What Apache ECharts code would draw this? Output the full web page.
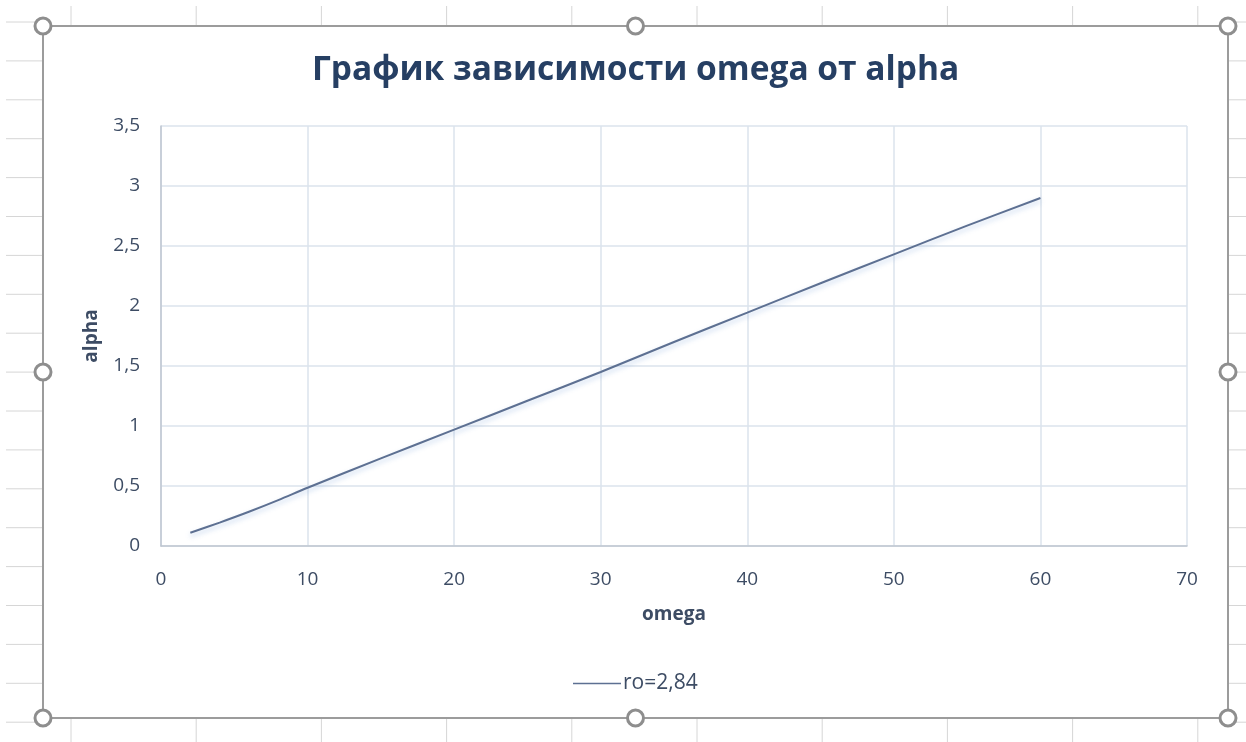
<!DOCTYPE html>
<html>
<head>
<meta charset="utf-8">
<title>График зависимости omega от alpha</title>
<script src="https://cdn.jsdelivr.net/npm/echarts@6/dist/echarts.min.js"></script>
<style>
  html, body { margin: 0; padding: 0; background: #ffffff; }
  #chart { width: 1246px; height: 742px; }
</style>
</head>
<body>
<div id="chart"></div>
<script>
// Measured values: omega on the horizontal axis, alpha on the vertical axis
const omega = [2, 4, 6, 8, 10, 15, 20, 25, 30, 35, 40, 45, 50, 55, 60];
const alpha = [0.11, 0.195, 0.285, 0.382, 0.485, 0.73, 0.97, 1.21, 1.45, 1.70, 1.945, 2.19, 2.43, 2.67, 2.90];
const seriesName = 'ro=2,84';
const xTicks = { min: 0, max: 70, step: 10 };
const yTicks = { min: 0, max: 3.5, step: 0.5 };

const points = omega.map((x, i) => [x, alpha[i]]);

const FONT = '"Open Sans", "Noto Sans", sans-serif';
const TEXT = '#3d4c64';

// Spreadsheet cells and selection frame around the embedded chart
const frame = { x1: 43, y1: 26, x2: 1228, y2: 718 };
const cellLines = [];
const rowStart = 22, rowStep = 38.9;
for (let y = rowStart; y < 742; y += rowStep) {
  cellLines.push({ type: 'line', silent: true, z: -10,
    shape: { x1: 6, y1: y, x2: frame.x1, y2: y }, style: { stroke: '#d6d6d6', lineWidth: 1 } });
  cellLines.push({ type: 'line', silent: true, z: -10,
    shape: { x1: frame.x2, y1: y, x2: 1246, y2: y }, style: { stroke: '#d6d6d6', lineWidth: 1 } });
}
const colStart = 71, colStep = 125.2;
for (let x = colStart; x < 1246; x += colStep) {
  cellLines.push({ type: 'line', silent: true, z: -10,
    shape: { x1: x, y1: 6, x2: x, y2: frame.y1 }, style: { stroke: '#d6d6d6', lineWidth: 1 } });
  cellLines.push({ type: 'line', silent: true, z: -10,
    shape: { x1: x, y1: frame.y2, x2: x, y2: 742 }, style: { stroke: '#d6d6d6', lineWidth: 1 } });
}
const frameRect = { type: 'rect', silent: true, z: -5,
  shape: { x: frame.x1, y: frame.y1, width: frame.x2 - frame.x1, height: frame.y2 - frame.y1 },
  style: { fill: '#ffffff', stroke: '#9c9c9c', lineWidth: 2 } };
const midX = (frame.x1 + frame.x2) / 2, midY = (frame.y1 + frame.y2) / 2;
const handlePos = [
  [frame.x1, frame.y1], [midX, frame.y1], [frame.x2, frame.y1],
  [frame.x1, midY], [frame.x2, midY],
  [frame.x1, frame.y2], [midX, frame.y2], [frame.x2, frame.y2]
];
const handles = handlePos.map(p => ({ type: 'circle', silent: true, z: 100,
  shape: { cx: p[0], cy: p[1], r: 8 },
  style: { fill: '#ffffff', stroke: '#8e8e8e', lineWidth: 3 } }));

const fmt = v => String(v).replace('.', ',');

const chart = echarts.init(document.getElementById('chart'), null, { renderer: 'canvas' });
chart.setOption({
  animation: false,
  backgroundColor: '#ffffff',
  title: {
    text: 'График зависимости omega от alpha',
    left: 307,
    top: 48,
    textStyle: { fontFamily: FONT, fontSize: 33.5, fontWeight: 'bold', color: '#263f63' }
  },
  legend: {
    left: 573, top: 673, padding: 0,
    itemWidth: 48, itemHeight: 10, itemGap: 0,
    textStyle: { fontFamily: FONT, fontSize: 21, color: TEXT, padding: [0, 0, 0, -3] },
    data: [{ name: seriesName, icon: 'path://M0,4.3 L48,4.3 L48,5.7 L0,5.7 Z' }]
  },
  grid: { left: 161, right: 59, top: 126, bottom: 196, containLabel: false },
  xAxis: {
    type: 'value',
    min: xTicks.min, max: xTicks.max, interval: xTicks.step,
    name: 'omega', nameLocation: 'middle', nameGap: 59,
    nameTextStyle: { fontFamily: FONT, fontSize: 19, fontWeight: 'bold', color: TEXT },
    axisLine: { show: true, lineStyle: { color: '#bfc6d0', width: 1.5 } },
    axisTick: { show: false },
    axisLabel: { fontFamily: FONT, fontSize: 19, color: TEXT, margin: 24, formatter: fmt },
    splitLine: { show: true, lineStyle: { color: '#dbe3ec', width: 1.5 } }
  },
  yAxis: {
    type: 'value',
    min: yTicks.min, max: yTicks.max, interval: yTicks.step,
    name: 'alpha', nameLocation: 'middle', nameGap: 60, nameRotate: 90,
    nameTextStyle: { fontFamily: FONT, fontSize: 19, fontWeight: 'bold', color: TEXT },
    axisLine: { show: true, lineStyle: { color: '#bfc6d0', width: 1.5 } },
    axisTick: { show: false },
    axisLabel: { fontFamily: FONT, fontSize: 19, color: TEXT, margin: 21, formatter: fmt },
    splitLine: { show: true, lineStyle: { color: '#dbe3ec', width: 1.5 } }
  },
  series: [{
    name: seriesName,
    type: 'line',
    data: points,
    showSymbol: false,
    symbol: 'none',
    smooth: 0.3,
    color: '#5d7092',
    lineStyle: {
      color: '#5d7092', width: 2,
      shadowColor: 'rgba(120,160,215,0.45)', shadowBlur: 5, shadowOffsetY: 3
    }
  }],
  graphic: [...cellLines, frameRect, ...handles]
});
</script>
</body>
</html>
